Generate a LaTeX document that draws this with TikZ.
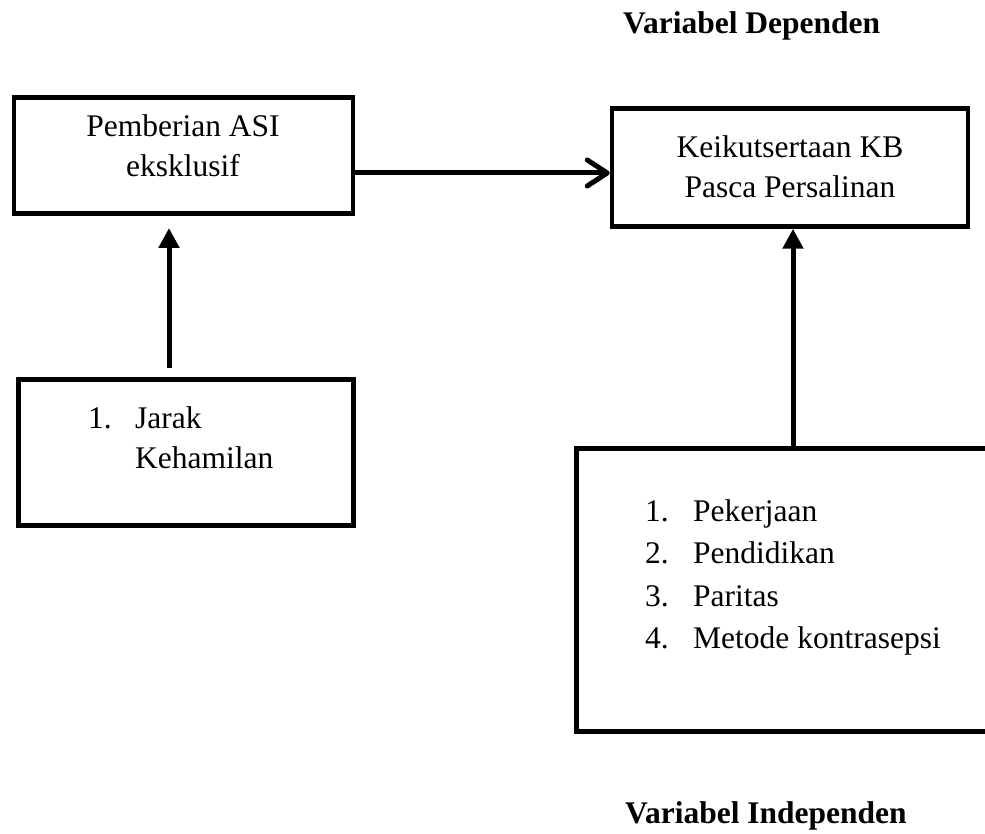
\documentclass[tikz,border=0pt]{standalone}
\usepackage{fontspec}
\setmainfont{Liberation Serif}
\usetikzlibrary{arrows.meta}
\begin{document}
\begin{tikzpicture}[x=1pt,y=-1pt,
  box/.style={draw, line width=4.5pt, inner sep=0pt},
  txt/.style={inner sep=0pt, font=\fontsize{31.5}{38}\selectfont},
  ttl/.style={inner sep=0pt, font=\fontsize{31.5}{38}\selectfont\bfseries},
  conn/.style={line width=5pt},
  tri/.style={conn, -{Triangle[length=20pt,width=20pt]}},
  barb/.style={conn, -{Straight Barb[length=20pt,width=26pt,round]}}]
\clip (0,0) rectangle (985,834);
% titles
\node[ttl, anchor=base west] (t1) at (623,34) {Variabel Dependen};
\node[ttl, anchor=base west] (t2) at (625,823) {Variabel Independen};
% boxes
\node[box, minimum width=339pt, minimum height=116pt] (A) at (183.5,155.5) {};
\node[box, minimum width=356pt, minimum height=118pt] (B) at (790,167.5) {};
\node[box, minimum width=335pt, minimum height=146pt] (C) at (186,452.5) {};
\node[box, minimum width=424pt, minimum height=283pt] (D) at (788.5,590) {};
% box texts
\node[txt, anchor=base] (a1) at (183,137) {Pemberian ASI};
\node[txt, anchor=base] (a2) at (183,177) {eksklusif};
\node[txt, anchor=base] (b1) at (790,158) {Keikutsertaan KB};
\node[txt, anchor=base] (b2) at (790,198) {Pasca Persalinan};
\node[txt, anchor=base west] (c0) at (88,428) {1.};
\node[txt, anchor=base west] (c1) at (135,428) {Jarak};
\node[txt, anchor=base west] (c2) at (135,468) {Kehamilan};
\node[txt, anchor=base west] (d0) at (645,521) {1.};
\node[txt, anchor=base west] (d1) at (693,521) {Pekerjaan};
\node[txt, anchor=base west] (e0) at (645,563) {2.};
\node[txt, anchor=base west] (e1) at (693,563) {Pendidikan};
\node[txt, anchor=base west] (f0) at (645,606) {3.};
\node[txt, anchor=base west] (f1) at (693,606) {Paritas};
\node[txt, anchor=base west] (g0) at (645,648) {4.};
\node[txt, anchor=base west] (g1) at (693,648) {Metode kontrasepsi};
% connectors
\coordinate (hy) at (0,173);
\draw[barb] (A.east |- hy) -- (B.west |- hy);
\coordinate (ltail) at (169,368);
\coordinate (ltip) at (169,228);
\draw[tri] (ltail) -- (ltip);
\coordinate (xr) at (793,0);
\draw[tri] (D.north -| xr) -- (B.south -| xr);
\end{tikzpicture}
\end{document}
